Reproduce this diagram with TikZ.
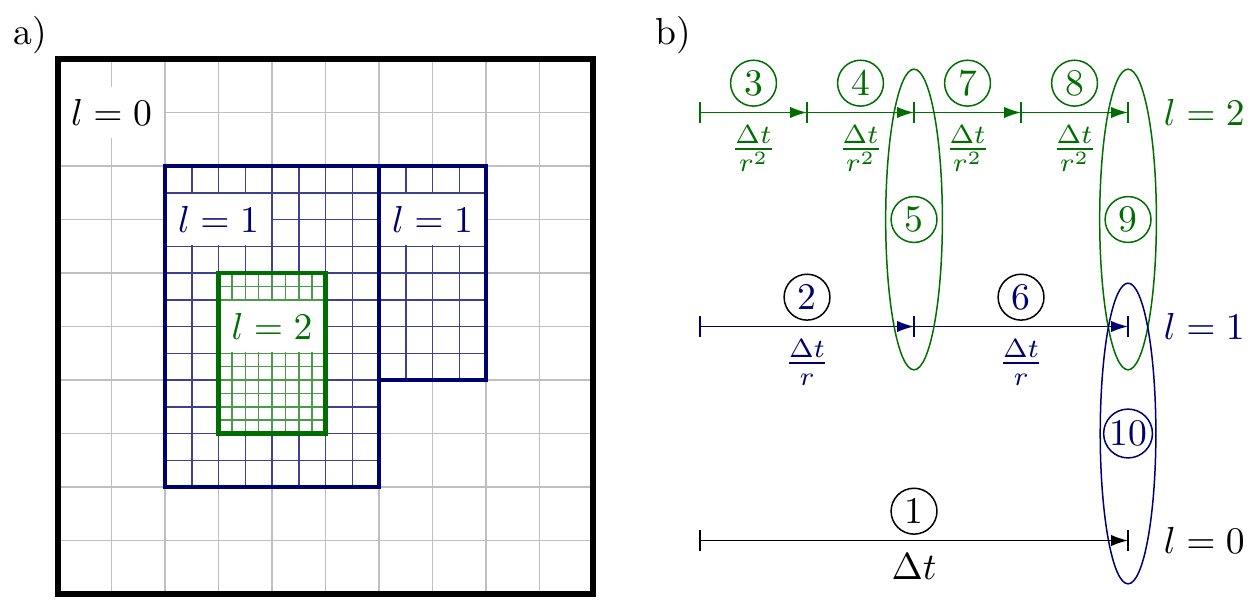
\documentclass[tikz,border=0pt]{standalone}
\usepackage{amsmath}
\usepackage{amssymb}
\usepackage{tikz}
\usetikzlibrary{arrows.meta,positioning}
\definecolor{lone}{RGB}{0,0,110}
\definecolor{ltwo}{RGB}{0,110,0}

\begin{document}
\begin{tikzpicture}[x=0.5cm,y=0.5cm,
    lbl/.style={fill=white},
    num/.style={circle,draw,minimum size=12.2pt,inner sep=0.3pt},
    tstep/.style={-{Latex[length=4.5pt,width=3pt]}},
    lvl/.style={right=6pt of #1}]
    \useasboundingbox (-1.084,-0.112) rectangle (22.41,11.103);
    \node (pa) at (-0.52,10.45) {a)};
    \node (pb) at (11.5,10.45) {b)};
    % a) grids
    \draw[gray!50, thin, step=0.5cm] (0,0) grid (10,10);
    \fill[white] (2,2) rectangle (6,8);
    \fill[white] (6,4) rectangle (8,8);
    \draw[lone!75, thin, step=0.25cm] (2,2) grid (6,8);
    \draw[lone!75, thin, step=0.25cm] (6,4) grid (8,8);
    \fill[white] (3,3) rectangle (5,6);
    \draw[ltwo!70, thin, step=0.125cm] (3,3) grid (5,6);
    \node[lbl] (gl0) at (1,9) {$l=0$};
    \node[lbl, text=lone] (gl1a) at (3,7) {$l=1$};
    \node[lbl, text=lone] (gl1b) at (7,7) {$l=1$};
    \node[lbl, text=ltwo] (gl2) at (4,5) {$l=2$};
    \draw[line width=1.6pt] (0,0) rectangle (10,10);
    \draw[lone, line width=1.3pt] (2,2) rectangle (6,8);
    \draw[lone, line width=1.3pt] (6,4) rectangle (8,8);
    \draw[ltwo, line width=1.3pt] (3,3) rectangle (5,6);
    % b) time steps
    \foreach \i/\x in {0/12,1/14,2/16,3/18,4/20} {
        \coordinate (t2\i) at (\x,9);
        \draw[ltwo] (t2\i) ++(0,-0.19) -- ++(0,0.38);
    }
    \foreach \i/\x in {0/12,1/16,2/20} {
        \coordinate (t1\i) at (\x,5);
        \draw[lone] (t1\i) ++(0,-0.19) -- ++(0,0.38);
    }
    \foreach \i/\x in {0/12,1/20} {
        \coordinate (t0\i) at (\x,1);
        \draw (t0\i) ++(0,-0.19) -- ++(0,0.38);
    }
    \draw[tstep] (t00) -- (t01)
        node[midway, num, above=1.5pt] (c1) {1}
        node[midway, below] (f1) {$\Delta t$};
    \draw[tstep, lone] (t10) -- (t11)
        node[midway, num, draw=black, above=1.5pt] (c2) {2}
        node[midway, below] (f2) {$\frac{\Delta t}{r}$};
    \draw[tstep, lone] (t11) -- (t12)
        node[midway, num, draw=black, above=1.5pt] (c6) {6}
        node[midway, below] (f6) {$\frac{\Delta t}{r}$};
    \draw[tstep, ltwo] (t20) -- (t21)
        node[midway, num, above=1.5pt] (c3) {3}
        node[midway, below] (f3) {$\frac{\Delta t}{r^2}$};
    \draw[tstep, ltwo] (t21) -- (t22)
        node[midway, num, above=1.5pt] (c4) {4}
        node[midway, below] (f4) {$\frac{\Delta t}{r^2}$};
    \draw[tstep, ltwo] (t22) -- (t23)
        node[midway, num, above=1.5pt] (c7) {7}
        node[midway, below] (f7) {$\frac{\Delta t}{r^2}$};
    \draw[tstep, ltwo] (t23) -- (t24)
        node[midway, num, above=1.5pt] (c8) {8}
        node[midway, below] (f8) {$\frac{\Delta t}{r^2}$};
    \node[num, ltwo] (c5) at (16,7) {5};
    \node[num, ltwo] (c9) at (20,7) {9};
    \node[num, lone] (c10) at (20,3) {10};
    \draw[ltwo] (c5) ellipse [x radius=0.53, y radius=2.81];
    \draw[ltwo] (c9) ellipse [x radius=0.53, y radius=2.81];
    \draw[lone] (c10) ellipse [x radius=0.52, y radius=2.81];
    \node[ltwo, lvl=t24] (l2) {$l=2$};
    \node[lone, lvl=t12] (l1) {$l=1$};
    \node[lvl=t01] (l0) {$l=0$};
\end{tikzpicture}
\end{document}
